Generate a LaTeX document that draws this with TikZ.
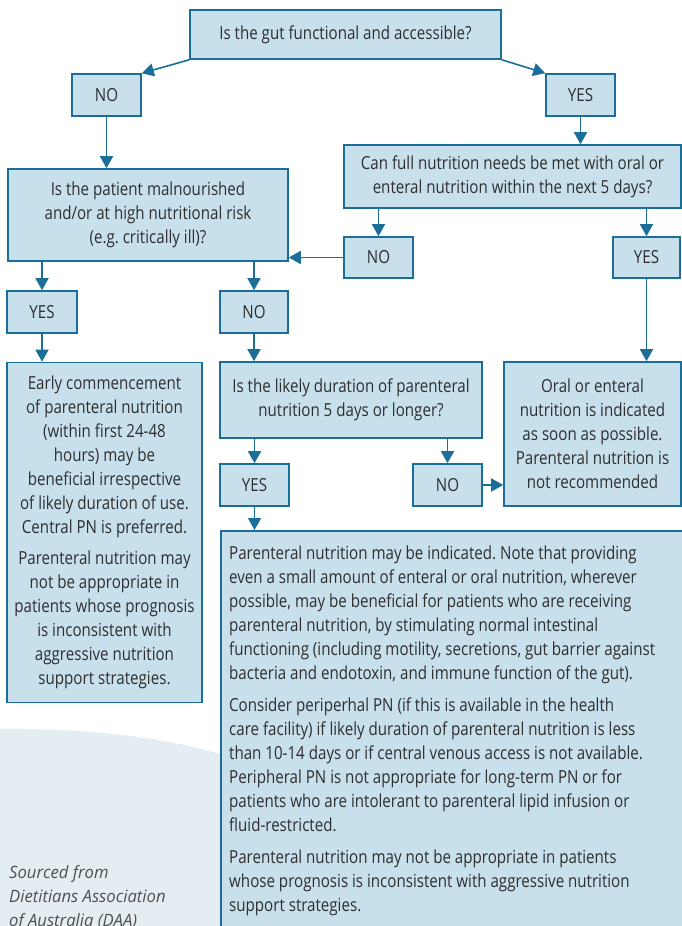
\documentclass[tikz,border=0pt]{standalone}
\usepackage{fontspec}
\setmainfont{Open Sans}[FakeStretch=0.84]
\newfontfamily\srcfont{Open Sans}[FakeStretch=0.98]
\usetikzlibrary{arrows.meta}
\definecolor{boxfill}{HTML}{C8E0EC}
\definecolor{boxline}{HTML}{1A6E98}
\definecolor{txt}{HTML}{2E2E2E}
\definecolor{shadebg}{HTML}{E4EDF2}
\definecolor{srcgrey}{HTML}{505050}
\frenchspacing
\begin{document}
\begin{tikzpicture}[x=1pt,y=-1pt,
  box/.style={draw=boxline, fill=boxfill, line width=1.6pt, text=txt, inner sep=0pt, align=center, font=\fontsize{18}{24}\selectfont},
  arr/.style={draw=boxline, line width=1.6pt, -{Triangle[length=12pt,width=13pt]}}]
\useasboundingbox (0,0) rectangle (682,926);
\fill[shadebg] (0,729) .. controls (90,728) and (170,738) .. (230,757) -- (230,926) -- (0,926) -- cycle;

\node[box, minimum width=311, minimum height=49] (q1) at (345.5,34.5) {\raisebox{-2pt}{Is the gut functional and accessible?}};
\node[box, minimum width=69, minimum height=42] (no1) at (106.5,95) {NO};
\node[box, minimum width=69, minimum height=42] (yes1) at (580.5,95) {YES};
\node[box, minimum width=337, minimum height=63] (q2) at (512.5,176.5) {Can full nutrition needs be met with oral or\\enteral nutrition within the next 5 days?};
\node[box, minimum width=280, minimum height=92] (q3) at (148,215) {Is the patient malnourished\\and/or at high nutritional risk\\(e.g. critically ill)?};
\node[box, minimum width=69, minimum height=41] (no2) at (378.5,257.5) {NO};
\node[box, minimum width=67, minimum height=41] (yes2) at (646.5,257.5) {YES};
\node[box, minimum width=70, minimum height=42] (yes3) at (42,312) {YES};
\node[box, minimum width=68, minimum height=42] (no3) at (254,312) {NO};
\node[box, minimum width=195, minimum height=340] (early) at (104.5,532.5) {Early commencement\\of parenteral nutrition\\(within first 24-48\\hours) may be\\beneficial irrespective\\of likely duration of use.\\Central PN is preferred.\\[7pt]Parenteral nutrition may\\not be appropriate in\\patients whose prognosis\\is inconsistent with\\aggressive nutrition\\support strategies.};
\node[box, minimum width=262, minimum height=76] (q4) at (351,400) {Is the likely duration of parenteral\\nutrition 5 days or longer?};
\node[box, minimum width=177, minimum height=144] (oral) at (592.5,434) {Oral or enteral\\nutrition is indicated\\as soon as possible.\\Parenteral nutrition is\\not recommended};
\node[box, minimum width=69, minimum height=42] (yes4) at (254.5,485) {YES};
\node[box, minimum width=69, minimum height=42] (no4) at (447.5,485) {NO};
\node[box, anchor=north west, minimum width=470, minimum height=420] (big) at (220,530) {};
\node[anchor=north west, inner sep=0pt, align=left, text=txt, font=\fontsize{18}{24}\selectfont] (bigtext) at (229,546) {Parenteral nutrition may be indicated. Note that providing\\even a small amount of enteral or oral nutrition, wherever\\possible, may be beneficial for patients who are receiving\\parenteral nutrition, by stimulating normal intestinal\\functioning (including motility, secretions, gut barrier against\\bacteria and endotoxin, and immune function of the gut).\\[8pt]Consider periperhal PN (if this is available in the health\\care facility) if likely duration of parenteral nutrition is less\\than 10-14 days or if central venous access is not available.\\Peripheral PN is not appropriate for long-term PN or for\\patients who are intolerant to parenteral lipid infusion or\\fluid-restricted.\\[8pt]Parenteral nutrition may not be appropriate in patients\\whose prognosis is inconsistent with aggressive nutrition\\support strategies.};
\node[anchor=north west, inner sep=0pt, align=left, text=srcgrey, font=\srcfont\itshape\fontsize{17}{24}\selectfont] (src) at (9,865) {Sourced from\\Dietitians Association\\of Australia (DAA)};

\draw[arr] (q1.south west) -- (no1.north east);
\draw[arr] (q1.south east) -- (yes1.north west);
\draw[arr] (no1.south) -- (no1.south |- q3.north);
\draw[arr] (yes1.south) -- (yes1.south |- q2.north);
\draw[arr] (q2.south -| no2.north) -- (no2.north);
\draw[arr] (q2.south -| yes2.north) -- (yes2.north);
\draw[arr] (no2.west) -- (no2.west -| q3.east);
\draw[arr] (q3.south -| yes3.north) -- (yes3.north);
\draw[arr] (q3.south -| no3.north) -- (no3.north);
\draw[arr] (yes3.south) -- (yes3.south |- early.north);
\draw[arr] (no3.south) -- (no3.south |- q4.north);
\draw[arr] (yes2.south) -- (yes2.south |- oral.north);
\draw[arr] (q4.south -| yes4.north) -- (yes4.north);
\draw[arr] (q4.south -| no4.north) -- (no4.north);
\draw[arr] (no4.east) -- (no4.east -| oral.west);
\draw[arr] (yes4.south) -- (yes4.south |- big.north);
\end{tikzpicture}
\end{document}
